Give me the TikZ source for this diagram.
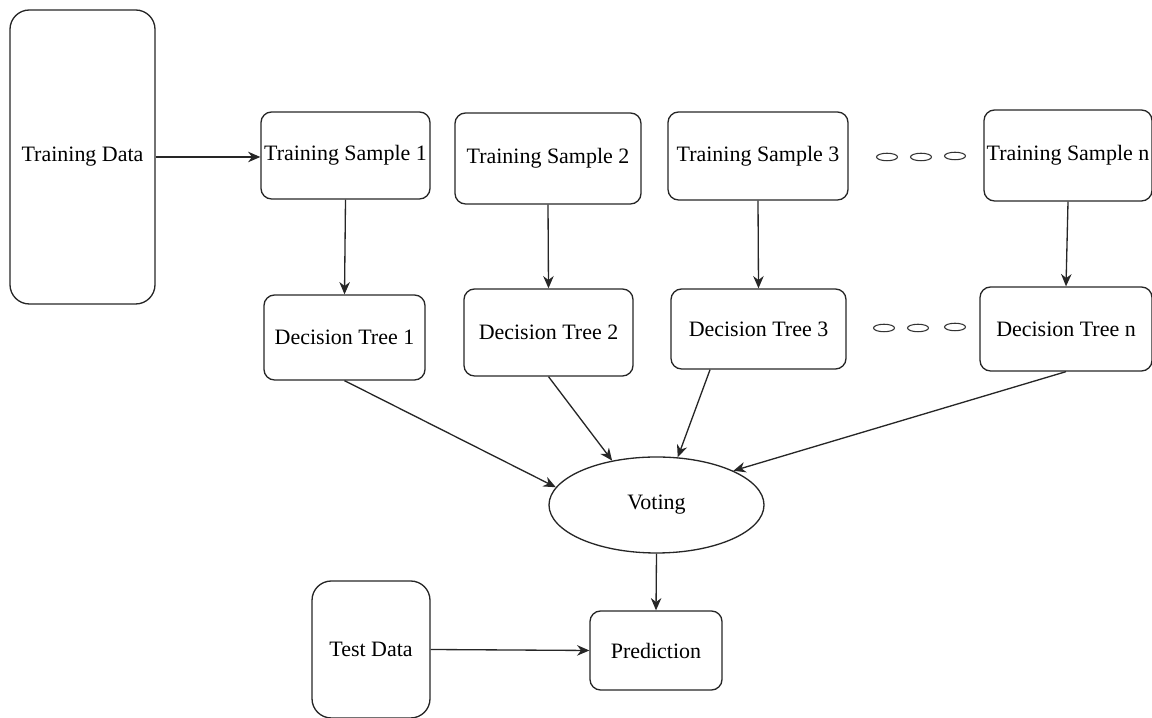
\documentclass[tikz,border=0pt]{standalone}
\usepackage{fontspec}
\setmainfont{Liberation Serif}
\usetikzlibrary{arrows.meta,shapes.geometric}
\tikzset{
>={Stealth[length=7pt,width=6pt]},
  box/.style={
    rectangle,
    rounded corners=6pt,
    draw=black!85, line width=0.75pt,
    inner sep=0pt,
    align=center},
  bigbox/.style={box, rounded corners=11pt},
  vote/.style={
    ellipse,
    draw=black!85, line width=0.75pt,
    minimum width=4.3cm,
    minimum height=1.92cm},
  line/.style={draw=black!85, line width=0.75pt, ->},
  dot/.style={ellipse, draw=black!80, line width=0.6pt,
    minimum width=0.42cm, minimum height=0.15cm, inner sep=0pt},
}
\begin{document}
\begin{tikzpicture}[font=\fontsize{12.5}{15}\selectfont]
\useasboundingbox (0,0) rectangle (23.04,14.36);
% input data
\node[bigbox, minimum width=2.9cm, minimum height=5.88cm] (tdata) at (1.65,11.22) {Training Data};
\node[bigbox, minimum width=2.36cm, minimum height=2.74cm] (test) at (7.42,1.37) {Test Data};
% bootstrap samples
\node[box, minimum width=3.38cm, minimum height=1.74cm] (ts1) at (6.91,11.25) {Training Sample 1};
\node[box, minimum width=3.72cm, minimum height=1.82cm] (ts2) at (10.96,11.19) {Training Sample 2};
\node[box, minimum width=3.6cm, minimum height=1.76cm] (ts3) at (15.16,11.24) {Training Sample 3};
\node[box, minimum width=3.36cm, minimum height=1.82cm] (tsn) at (21.36,11.25) {Training Sample n};
% trees
\node[box, minimum width=3.22cm, minimum height=1.7cm] (dt1) at (6.89,7.61) {Decision Tree 1};
\node[box, minimum width=3.38cm, minimum height=1.74cm] (dt2) at (10.97,7.71) {Decision Tree 2};
\node[box, minimum width=3.5cm, minimum height=1.6cm] (dt3) at (15.17,7.78) {Decision Tree 3};
\node[box, minimum width=3.44cm, minimum height=1.68cm] (dtn) at (21.32,7.78) {Decision Tree n};
% aggregation
\node[vote] (voting) at (13.13,4.26) {Voting};
\node[box, minimum width=2.64cm, minimum height=1.58cm] (pred) at (13.12,1.35) {Prediction};
% dots between 3 and n
\foreach \x/\y [count=\i] in {17.74/11.22, 18.42/11.22, 19.10/11.24, 17.68/7.8, 18.36/7.8, 19.10/7.82}{
  \node[dot] (dot\i) at (\x,\y) {};
}
\path[line] (tdata.east) -- (tdata.east -| ts1.west);
\foreach \k in {1,2,3,n}{
  \path[line] (ts\k.south) -- (dt\k.north);
}
\path[line] (dt1.south) -- (voting.170);
\path[line] (dt2.south) -- (voting.135);
\path[line] (dt3.220) -- (voting.66);
\path[line] (dtn.south) -- (voting.24);
\path[line] (voting.south) -- (pred.north);
\path[line] (test.east) -- (pred.west);
\end{tikzpicture}
\end{document}
